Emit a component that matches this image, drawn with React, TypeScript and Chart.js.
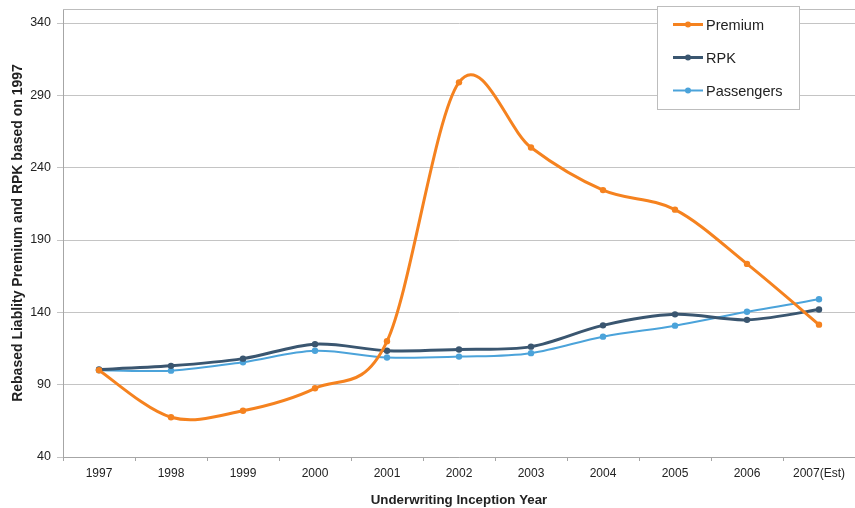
import React, { useEffect, useRef } from "react";
import { Chart, registerables } from "chart.js";

Chart.register(...registerables);

const years = ["1997", "1998", "1999", "2000", "2001", "2002", "2003", "2004", "2005", "2006", "2007(Est)"];
const premium = [100, 67.5, 72, 87.5, 120, 299, 254, 224.5, 211, 173.5, 131.5];
const rpk = [100.5, 103, 108, 118, 113.5, 114.3, 116.3, 131, 138.6, 134.8, 142];
const passengers = [100, 99.7, 105.5, 113.4, 108.8, 109.4, 111.8, 123.2, 130.8, 140.4, 149];
const yTicks = [40, 90, 140, 190, 240, 290, 340];

const seriesNames = ["Premium", "RPK", "Passengers"];
const seriesColors = ["#F5821F", "#3A5670", "#4BA3DA"];
const seriesWidths = [3, 3, 2];

const FONT = "'Liberation Sans', Arial, Helvetica, sans-serif";

// Uniform Catmull-Rom smoothing: each point's bezier handles are
// one sixth of the chord between its neighbours.
const catmullRom = {
  id: "catmullRom",
  beforeDatasetDraw(chart: any, args: any) {
    const meta = args.meta;
    const pts = meta.data;
    const n = pts.length;
    for (let i = 0; i < n; i++) {
      const p = pts[i];
      const prev = pts[Math.max(i - 1, 0)];
      const next = pts[Math.min(i + 1, n - 1)];
      const dx = (next.x - prev.x) / 6;
      const dy = (next.y - prev.y) / 6;
      p.cp1x = p.x - dx;
      p.cp1y = p.y - dy;
      p.cp2x = p.x + dx;
      p.cp2y = p.y + dy;
    }
    if (meta.dataset) meta.dataset._pointsUpdated = true;
  },
};

// Frame line along the top of the plot area
const topFrame = {
  id: "topFrame",
  beforeDatasetsDraw(chart: any) {
    const { ctx, chartArea } = chart;
    ctx.save();
    ctx.strokeStyle = "#BDBDBD";
    ctx.lineWidth = 1;
    ctx.beginPath();
    ctx.moveTo(chartArea.left, chartArea.top + 0.5);
    ctx.lineTo(chartArea.right, chartArea.top + 0.5);
    ctx.stroke();
    ctx.restore();
  },
};

// Boxed legend inside the plot area, top right
const boxLegend = {
  id: "boxLegend",
  afterDraw(chart: any) {
    const { ctx } = chart;
    const x0 = 657;
    const y0 = 6;
    const w = 142;
    const h = 103;
    ctx.save();
    ctx.fillStyle = "#FFFFFF";
    ctx.fillRect(x0, y0, w, h);
    ctx.strokeStyle = "#BDBDBD";
    ctx.lineWidth = 1;
    ctx.strokeRect(x0 + 0.5, y0 + 0.5, w, h);
    const rows = [24.5, 57.5, 90.5];
    chart.data.datasets.forEach((ds: any, i: number) => {
      const y = rows[i];
      ctx.strokeStyle = ds.borderColor;
      ctx.lineWidth = ds.borderWidth;
      ctx.beginPath();
      ctx.moveTo(673, y);
      ctx.lineTo(703, y);
      ctx.stroke();
      ctx.fillStyle = ds.borderColor;
      ctx.beginPath();
      ctx.arc(688, y, 3, 0, Math.PI * 2);
      ctx.fill();
      ctx.fillStyle = "#222222";
      ctx.font = `14.5px ${FONT}`;
      ctx.textBaseline = "middle";
      ctx.textAlign = "left";
      ctx.fillText(ds.label, 706, y + 1);
    });
    ctx.restore();
  },
};

export default function App() {
  const canvasRef = useRef<HTMLCanvasElement | null>(null);

  useEffect(() => {
    document.body.style.margin = "0";
    const canvas = canvasRef.current;
    if (!canvas) return;
    const datasets = [premium, rpk, passengers].map((values, i) => ({
      label: seriesNames[i],
      data: values,
      borderColor: seriesColors[i],
      backgroundColor: seriesColors[i],
      pointBackgroundColor: seriesColors[i],
      pointBorderColor: seriesColors[i],
      borderWidth: seriesWidths[i],
      pointRadius: 3.2,
      pointBorderWidth: 0,
      tension: 0.4,
      fill: false,
    }));

    const chart = new Chart(canvas, {
      type: "line",
      data: { labels: years, datasets },
      plugins: [catmullRom, topFrame, boxLegend],
      options: {
        animation: false,
        responsive: false,
        devicePixelRatio: 1,
        layout: { autoPadding: false, padding: { top: 9, right: 0, left: 0, bottom: 0 } },
        plugins: {
          legend: { display: false },
          tooltip: { enabled: false },
        },
        scales: {
          x: {
            type: "category",
            offset: true,
            grid: {
              offset: true,
              drawOnChartArea: false,
              drawTicks: true,
              tickLength: 4,
              color: "#A6A6A6",
            },
            border: { color: "#A6A6A6", width: 1 },
            ticks: {
              color: "#222222",
              font: { family: FONT, size: 12 },
              padding: 5,
              maxRotation: 0,
              autoSkip: false,
            },
            title: {
              display: true,
              text: "Underwriting Inception Year",
              color: "#222222",
              font: { family: FONT, size: 13.3, weight: "bold" },
              padding: { top: 0, bottom: 0 },
            },
            afterFit(scale: any) {
              scale.height = 51;
              scale.paddingLeft = 0;
              scale.paddingRight = 0;
            },
          },
          y: {
            min: 40,
            max: 349.7,
            afterBuildTicks(scale: any) {
              scale.ticks = yTicks.map((v) => ({ value: v }));
            },
            grid: {
              color: "#C4C4C4",
              tickLength: 6,
              drawTicks: true,
            },
            border: { color: "#A6A6A6", width: 1 },
            ticks: {
              color: "#222222",
              font: { family: FONT, size: 12.5 },
              padding: 6,
            },
            title: {
              display: true,
              text: "Rebased Liablity Premium and RPK based on 1997",
              color: "#222222",
              font: { family: FONT, size: 14, weight: "bold" },
              padding: { top: 10, bottom: 0 },
            },
            afterFit(scale: any) {
              scale.width = 63;
              scale.paddingTop = 0;
              scale.paddingBottom = 0;
            },
          },
        },
      },
    });

    return () => chart.destroy();
  }, []);

  return (
    <div style={{ position: "absolute", left: 0, top: 0, width: 855, height: 508 }}>
      <canvas ref={canvasRef} width={855} height={508} />
    </div>
  );
}
